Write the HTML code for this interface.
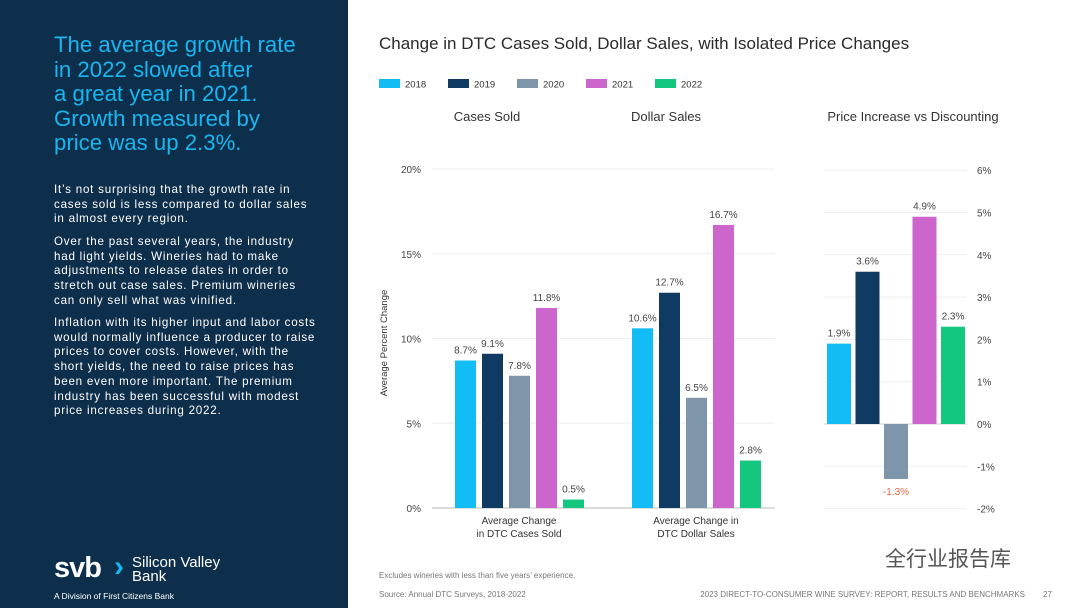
<!DOCTYPE html>
<html><head><meta charset="utf-8"><style>
body{margin:0;width:1080px;height:608px;overflow:hidden;background:#fff;font-family:"Liberation Sans","Noto Sans CJK SC",sans-serif;position:relative}
#side{position:absolute;left:0;top:0;width:348px;height:608px;background:#0e2f4c}
#side h1{position:absolute;left:54px;top:33px;margin:0;width:280px;font-size:22.2px;line-height:24.5px;font-weight:normal;color:#19b6f0}
#side .p{position:absolute;left:54px;width:290px;font-size:11.6px;line-height:14.7px;color:#fff;letter-spacing:0.78px;white-space:nowrap}
svg text{font-family:"Liberation Sans","Noto Sans CJK SC",sans-serif}
</style></head><body>
<div id="side">
<h1>The average growth rate<br>in 2022 slowed after<br>a great year in 2021.<br>Growth measured by<br>price was up 2.3%.</h1>
<div class="p" style="top:183px">It’s not surprising that the growth rate in<br>cases sold is less compared to dollar sales<br>in almost every region.</div>
<div class="p" style="top:235px">Over the past several years, the industry<br>had light yields. Wineries had to make<br>adjustments to release dates in order to<br>stretch out case sales. Premium wineries<br>can only sell what was vinified.</div>
<div class="p" style="top:316px">Inflation with its higher input and labor costs<br>would normally influence a producer to raise<br>prices to cover costs. However, with the<br>short yields, the need to raise prices has<br>been even more important. The premium<br>industry has been successful with modest<br>price increases during 2022.</div>
<div style="position:absolute;left:54px;top:553px;color:#fff">
<span style="position:absolute;left:0;top:0;font-size:29px;font-weight:bold;letter-spacing:-1px;line-height:30px">svb</span>
<span style="position:absolute;left:60px;top:-1px;font-size:30px;font-weight:bold;color:#19b6f0;line-height:30px">›</span>
<span style="position:absolute;left:78px;top:3px;font-size:15px;line-height:14px;white-space:nowrap">Silicon Valley<br>Bank</span>
<span style="position:absolute;left:0;top:38px;font-size:8.5px;white-space:nowrap">A Division of First Citizens Bank</span>
</div>
</div>
<svg id="chart" width="1080" height="608" style="position:absolute;left:0;top:0"></svg>
<script>
const years=['2018','2019','2020','2021','2022'];
const colors=['#12bdf5','#0f3a62','#7f95aa','#cc66cc','#14c77e'];
const groups=['Average Change|in DTC Cases Sold','Average Change in|DTC Dollar Sales'];
const casesSold=[8.7,9.1,7.8,11.8,0.5];
const dollarSales=[10.6,12.7,6.5,16.7,2.8];
const priceChange=[1.9,3.6,-1.3,4.9,2.3];
const leftTicks=[0,5,10,15,20];
const rightTicks=[-2,-1,0,1,2,3,4,5,6];
const NS='http://www.w3.org/2000/svg';
const svg=document.getElementById('chart');
function mk(t,a,txt){const e=document.createElementNS(NS,t);for(const k in a)e.setAttribute(k,a[k]);if(txt!=null)e.textContent=txt;svg.appendChild(e);return e;}
let e=mk('text',{x:379,y:49,'font-size':17,fill:'#2a2a2a'},'Change in DTC Cases Sold, Dollar Sales, with Isolated Price Changes');

years.forEach((y,i)=>{const x=379+i*69;
 let r=mk('rect',{x:x,y:79,width:21,height:9,fill:colors[i]});
 
 let t=mk('text',{x:x+26,y:87.5,'font-size':9.5,fill:'#333'},y);
 });
[['Cases Sold',487],['Dollar Sales',666],['Price Increase vs Discounting',913]].forEach(([s,x])=>{
 let t=mk('text',{x:x,y:121,'font-size':13,fill:'#333','text-anchor':'middle'},s);
 });
const y0=508,pxL=16.95;const yL=v=>y0-v*pxL;
leftTicks.forEach(v=>{let l=mk('line',{x1:432,x2:775,y1:yL(v),y2:yL(v),stroke:v===0?'#bbb':'#eee','stroke-width':1});
 
 let t=mk('text',{x:421,y:yL(v)+4,'font-size':10,fill:'#444','text-anchor':'end'},v+'%');
 });
let yt=mk('text',{x:0,y:0,'font-size':9.5,fill:'#333','text-anchor':'middle',transform:'translate(387,343) rotate(-90)'},'Average Percent Change');

[casesSold,dollarSales].forEach((arr,g)=>{const gx=455+g*177;
 arr.forEach((v,i)=>{const x=gx+i*27;
  let r=mk('rect',{x:x,y:yL(v),width:21,height:v*pxL,fill:colors[i]});
  
  let t=mk('text',{x:x+10.5,y:yL(v)-7,'font-size':10,fill:'#444','text-anchor':'middle'},v.toFixed(1)+'%');
  });
 groups[g].split('|').forEach((ln,k)=>{let t=mk('text',{x:gx+64,y:524+k*13,'font-size':10,fill:'#333','text-anchor':'middle'},ln);
  });});
const z0=424,pxR=42.3;const yR=v=>z0-v*pxR;
rightTicks.forEach(v=>{let l=mk('line',{x1:824,x2:967,y1:yR(v),y2:yR(v),stroke:v===0?'#ccc':'#eee','stroke-width':1});
 
 let t=mk('text',{x:977,y:yR(v)+4,'font-size':10,fill:'#444'},v+'%');
 });
priceChange.forEach((v,i)=>{const x=827+i*28.5;
 let r=mk('rect',{x:x,y:v>=0?yR(v):z0,width:24,height:Math.abs(v)*pxR,fill:colors[i]});
 
 let t=mk('text',{x:x+12,y:v>=0?yR(v)-7:yR(v)+16,'font-size':10,fill:v>=0?'#444':'#e0693f','text-anchor':'middle'},v.toFixed(1)+'%');
 });
[['Excludes wineries with less than five years\u2019 experience.',379,578,'start'],['Source: Annual DTC Surveys, 2018-2022',379,597,'start'],['2023 DIRECT-TO-CONSUMER WINE SURVEY: REPORT, RESULTS AND BENCHMARKS',1025,597,'end'],['27',1052,597,'end']].forEach(([s,x,y,a])=>{
 let t=mk('text',{x:x,y:y,'font-size':8,fill:'#777','text-anchor':a},s);
 });
let w=mk('text',{x:885,y:566,'font-size':21,fill:'#555'},'全行业报告库');

</script>
</body></html>
